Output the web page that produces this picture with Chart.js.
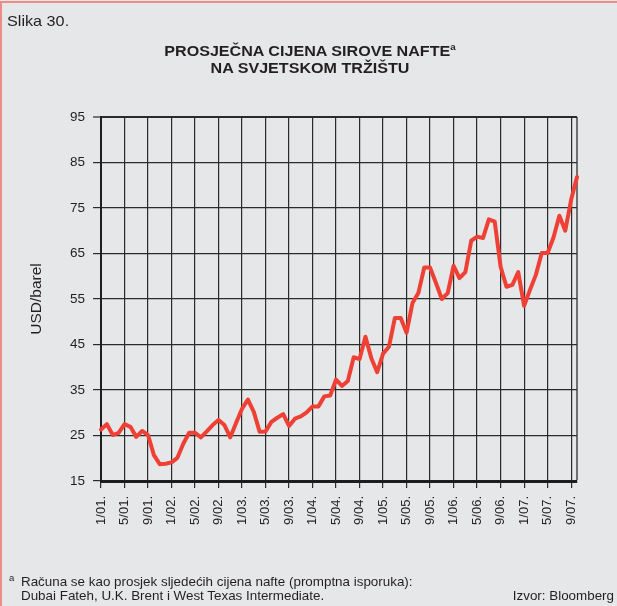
<!DOCTYPE html>
<html><head><meta charset="utf-8">
<script src="https://cdn.jsdelivr.net/npm/chart.js@4/dist/chart.umd.min.js"></script>
<style>
html,body{margin:0;padding:0;}
body{width:617px;height:606px;background:#e6e7e8;position:relative;overflow:hidden;font-family:"Liberation Sans",Arial,sans-serif;color:#231f20;}
#frame{position:absolute;left:0;top:1px;width:700px;height:700px;border-top:2px solid #ee8b87;border-left:2px solid #ee8b87;box-sizing:border-box;}
#c{position:absolute;left:0;top:0;}
.t{position:absolute;white-space:nowrap;line-height:1;}
#slika{left:7px;top:13px;font-size:15px;transform-origin:0 0;transform:scaleX(1.08);}
#title{left:310px;top:43px;font-size:14px;font-weight:bold;text-align:center;transform:translateX(-50%) scaleX(1.15);line-height:16.5px;}
#title sup{font-size:8.5px;vertical-align:6px;line-height:0;font-weight:bold;}
#fnA{left:9px;top:573px;font-size:9.5px;}
#fn1{left:21px;top:575px;font-size:13.4px;}
#fn2{left:21px;top:589px;font-size:13.4px;}
#src{right:3px;top:589px;font-size:13.4px;}
</style></head>
<body>
<div id="frame"></div>
<canvas id="c" width="617" height="606"></canvas>
<div class="t" id="slika">Slika 30.</div>
<div class="t" id="title">PROSJEČNA CIJENA SIROVE NAFTE<sup>a</sup><br>NA SVJETSKOM TRŽIŠTU</div>
<div class="t" id="fnA">a</div>
<div class="t" id="fn1">Računa se kao prosjek sljedećih cijena nafte (promptna isporuka):</div>
<div class="t" id="fn2">Dubai Fateh, U.K. Brent i West Texas Intermediate.</div>
<div class="t" id="src">Izvor: Bloomberg</div>
<script>
const categories = [
 "1/01","2/01","3/01","4/01","5/01","6/01","7/01","8/01","9/01","10/01","11/01","12/01",
 "1/02","2/02","3/02","4/02","5/02","6/02","7/02","8/02","9/02","10/02","11/02","12/02",
 "1/03","2/03","3/03","4/03","5/03","6/03","7/03","8/03","9/03","10/03","11/03","12/03",
 "1/04","2/04","3/04","4/04","5/04","6/04","7/04","8/04","9/04","10/04","11/04","12/04",
 "1/05","2/05","3/05","4/05","5/05","6/05","7/05","8/05","9/05","10/05","11/05","12/05",
 "1/06","2/06","3/06","4/06","5/06","6/06","7/06","8/06","9/06","10/06","11/06","12/06",
 "1/07","2/07","3/07","4/07","5/07","6/07","7/07","8/07","9/07","10/07"
];
const tickLabels = ["1/01.","5/01.","9/01.","1/02.","5/02.","9/02.","1/03.","5/03.","9/03.","1/04.","5/04.","9/04.","1/05.","5/05.","9/05.","1/06.","5/06.","9/06.","1/07.","5/07.","9/07."];
const oilPrice = [
 26.3,27.5,25.1,25.6,27.5,26.9,24.7,26.0,25.1,20.7,18.7,18.8,
 19.1,20.1,23.2,25.6,25.6,24.6,25.9,27.3,28.4,27.3,24.6,27.8,
 30.9,32.9,30.2,25.8,25.9,28.0,28.9,29.7,27.1,28.7,29.2,30.1,
 31.4,31.4,33.6,33.8,37.3,35.9,37.0,42.2,41.8,46.7,42.0,38.9,
 43.0,44.5,50.8,50.8,47.6,54.1,56.3,61.9,61.9,58.5,55.0,56.3,
 62.3,59.6,60.9,67.8,68.7,68.4,72.5,72.0,62.1,57.7,58.1,60.9,
 53.5,57.0,60.3,65.1,65.1,68.5,73.3,70.0,76.8,81.8
];
const yMin = 15, yMax = 95, yStep = 10;
const tickEvery = 4;

const lastIdx = categories.length - 1;
const dark = '#2b2b2b';
const clear = 'rgba(0,0,0,0)';
const fam = '"Liberation Sans", Arial, sans-serif';

new Chart(document.getElementById('c'), {
  type: 'line',
  data: {
    labels: categories,
    datasets: [{
      data: oilPrice,
      borderColor: '#ee4035',
      borderWidth: 4,
      pointRadius: 0,
      tension: 0,
      borderJoinStyle: 'round',
      borderCapStyle: 'round',
      fill: false
    }]
  },
  options: {
    responsive: false,
    animation: false,
    devicePixelRatio: 1,
    layout: { padding: { left: 0, top: 117, right: 40, bottom: 65 } },
    plugins: { legend: { display: false }, tooltip: { enabled: false }, title: { display: false } },
    scales: {
      x: {
        type: 'category',
        offset: false,
        afterFit: s => { s.height = 60; },
        border: { color: '#1e1e1e', width: 3 },
        grid: {
          drawOnChartArea: true,
          drawTicks: true,
          tickLength: 7,
          color: c => (c.index % tickEvery === 0) ? dark : (c.index === lastIdx ? '#6f6f6f' : clear),
          lineWidth: c => (c.index === lastIdx ? 2 : 1.2),
          tickColor: c => (c.index % tickEvery === 0) ? dark : clear,
          tickWidth: 1.2
        },
        ticks: {
          autoSkip: false,
          minRotation: 90,
          maxRotation: 90,
          padding: 8,
          color: '#231f20',
          font: { family: fam, size: 13 },
          callback: (v, i) => (i % tickEvery === 0) ? tickLabels[i / tickEvery] : ''
        }
      },
      y: {
        min: yMin,
        max: yMax,
        afterFit: s => { s.width = 101; },
        border: { color: '#1e1e1e', width: 2 },
        grid: {
          color: dark,
          lineWidth: c => (c.tick && c.tick.value === yMax ? 2 : 1.2),
          tickLength: 8,
          tickColor: dark,
          tickWidth: 1.2
        },
        ticks: {
          stepSize: yStep,
          padding: 8,
          color: '#231f20',
          font: { family: fam, size: 13.5 }
        },
        title: {
          display: true,
          text: 'USD/barel',
          color: '#231f20',
          font: { family: fam, size: 15.5 },
          padding: { top: 27, bottom: 0 }
        }
      }
    }
  }
});
</script>
</body></html>
